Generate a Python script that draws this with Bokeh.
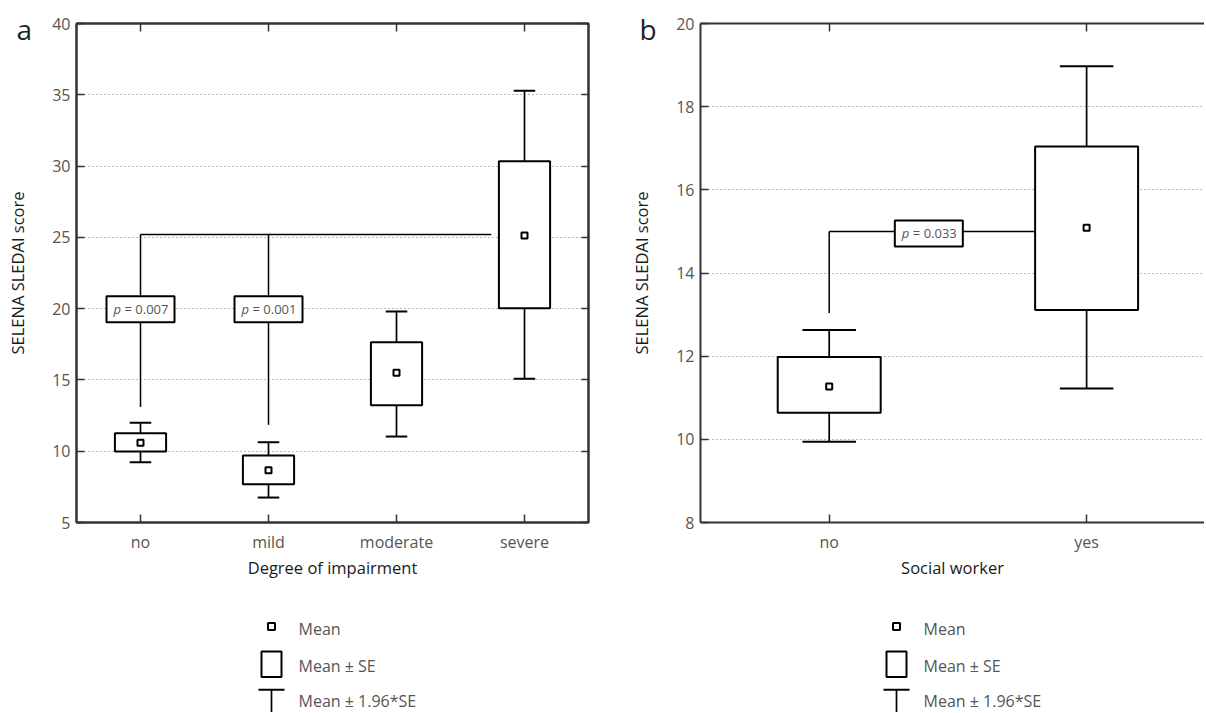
import numpy as np
from bokeh.plotting import figure
from bokeh.models import Range1d, FixedTicker, SingleIntervalTicker, LinearAxis
from bokeh.layouts import column, row
from bokeh.embed import file_html
from bokeh.resources import INLINE
from bokeh.core.properties import value

# ---------------- data ----------------
cats_a = ["no", "mild", "moderate", "severe"]
mean_a = [10.60, 8.67, 15.50, 25.13]
se_low_a = [9.98, 7.69, 13.23, 20.03]
se_high_a = [11.26, 9.70, 17.64, 30.34]
ci_low_a = [9.23, 6.75, 11.03, 15.08]
ci_high_a = [11.99, 10.63, 19.80, 35.29]

cats_b = ["no", "yes"]
mean_b = [11.27, 15.09]
se_low_b = [10.64, 13.11]
se_high_b = [11.98, 17.04]
ci_low_b = [9.94, 11.22]
ci_high_b = [12.63, 18.97]

# comparison brackets
cmp_a_from = ["no", "mild"]
cmp_a_to = "severe"
cmp_a_level = 25.2
cmp_a_drop_end = [13.1, 11.85]
cmp_a_p = ["0.007", "0.001"]
cmp_a_label_y = [19.96, 19.96]

cmp_b_from = ["no"]
cmp_b_to = "yes"
cmp_b_level = 15.0
cmp_b_drop_end = [13.04]
cmp_b_p = ["0.033"]
cmp_b_label_y = [14.95]

legend_labels = ["Mean", "Mean \u00b1 SE", "Mean \u00b1 1.96*SE"]
panel_letters = ["a", "b"]

FONT = "Open Sans"
AX = "#333333"


def style_axis(ax):
    ax.axis_line_color = AX
    ax.axis_line_width = 2
    ax.major_tick_line_color = AX
    ax.major_tick_line_width = 1.5
    ax.major_tick_in = 8
    ax.major_tick_out = 0
    ax.minor_tick_line_color = None
    ax.major_label_text_font = FONT
    ax.major_label_text_font_size = "16px"
    ax.major_label_text_color = "#555555"
    ax.axis_label_text_font = FONT
    ax.axis_label_text_font_style = "normal"
    ax.axis_label_text_color = "#1a1a1a"
    ax.axis_label_text_font_size = "16.5px"


def make_panel(cats, mean, se_lo, se_hi, ci_lo, ci_hi, y0, y1, yint, xlabel,
               x_end, frame_w, frame_h, mb_left, mb_right, mb_top,
               mb_bottom, cap_half, right_border, cmp_from, cmp_to, level,
               drop_end, pvals, label_y, label_x, bracket_gap):
    p = figure(x_range=Range1d(-0.5, x_end), y_range=Range1d(y0, y1),
               frame_width=frame_w, frame_height=frame_h,
               min_border_left=mb_left, min_border_right=mb_right,
               min_border_top=mb_top, min_border_bottom=mb_bottom,
               toolbar_location=None, output_backend="svg",
               background_fill_color="white", border_fill_color=None)
    idx = list(range(len(cats)))
    xt = FixedTicker(ticks=idx)
    yt = SingleIntervalTicker(interval=yint, num_minor_ticks=0)

    xa = p.xaxis[0]
    xa.ticker = xt
    xa.major_label_overrides = {i: c for i, c in enumerate(cats)}
    style_axis(xa)
    xa.major_label_standoff = 8
    xa.axis_label = xlabel
    xa.axis_label_standoff = 0

    ya = p.yaxis[0]
    ya.ticker = yt
    style_axis(ya)
    ya.major_label_standoff = 6
    ya.axis_label = "SELENA SLEDAI score"
    ya.axis_label_standoff = 20

    top = LinearAxis(ticker=FixedTicker(ticks=idx),
                     major_label_overrides={i: "" for i in idx})
    style_axis(top)
    p.add_layout(top, "above")

    if right_border:
        ticks_r = list(np.arange(y0, y1 + 0.001, yint))
        right = LinearAxis(ticker=FixedTicker(ticks=ticks_r),
                           major_label_overrides={t: "" for t in ticks_r})
        style_axis(right)
        right.major_tick_in = 7
        p.add_layout(right, "right")
        p.outline_line_color = AX
        p.outline_line_width = 2
    else:
        p.outline_line_color = None

    p.xgrid.visible = False
    p.ygrid.ticker = yt
    p.ygrid.grid_line_color = "#777777"
    p.ygrid.grid_line_dash = "1 3"
    p.ygrid.grid_line_width = 1

    x = np.array(idx, dtype=float)
    # whisker stems
    p.segment(x0=x, x1=x, y0=se_hi, y1=ci_hi, line_color="black", line_width=1.7)
    p.segment(x0=x, x1=x, y0=se_lo, y1=ci_lo, line_color="black", line_width=1.7)
    # caps
    p.segment(x0=x - cap_half, x1=x + cap_half, y0=ci_hi, y1=ci_hi,
              line_color="black", line_width=2)
    p.segment(x0=x - cap_half, x1=x + cap_half, y0=ci_lo, y1=ci_lo,
              line_color="black", line_width=2)
    # boxes
    p.vbar(x=x, top=se_hi, bottom=se_lo, width=0.4, fill_color="white",
           line_color="black", line_width=2)
    # means
    p.scatter(x=x, y=mean, marker="square", size=6, fill_color="white",
              line_color="black", line_width=2)

    # comparison bracket
    fi = np.array([cats.index(c) for c in cmp_from], dtype=float)
    ti = cats.index(cmp_to)
    p.segment(x0=[fi.min()], x1=[ti - 0.2 - bracket_gap], y0=[level], y1=[level],
              line_color="black", line_width=1.5)
    p.segment(x0=fi, x1=fi, y0=[level] * len(fi), y1=drop_end,
              line_color="black", line_width=1.5)
    lx = fi if label_x is None else np.array(label_x)
    p.rect(x=lx, y=label_y, width=68, height=26, width_units="screen",
           height_units="screen", fill_color="white", line_color="black",
           line_width=2)
    p.text(x=lx, y=label_y, text=["p"] * len(lx), x_offset=-27,
           text_align="left", text_baseline="middle",
           text_font=value(FONT), text_font_size=value("13px"),
           text_font_style="italic", text_color="#555555")
    p.text(x=lx, y=label_y, text=["= " + v for v in pvals], x_offset=-16,
           text_align="left", text_baseline="middle",
           text_font=value(FONT), text_font_size=value("13px"),
           text_color="#555555")
    return p


def make_letter(width, height, lx, letter):
    k = figure(x_range=Range1d(0, width), y_range=Range1d(height, 0),
               width=width, height=height, min_border=0, title=None,
               toolbar_location=None, output_backend="svg",
               x_axis_location=None, y_axis_location=None,
               outline_line_color=None)
    k.grid.visible = False
    k.text(x=[lx], y=[28.5], text=[letter], text_align="left",
           text_baseline="middle", text_font=value(FONT),
           text_font_size=value("28px"), text_color="#222222")
    return k


def make_key(width, height, mx):
    k = figure(x_range=Range1d(0, width), y_range=Range1d(height, 0),
               width=width, height=height, min_border=0,
               toolbar_location=None, output_backend="svg",
               x_axis_location=None, y_axis_location=None,
               outline_line_color=None)
    k.grid.visible = False
    k.scatter(x=[mx], y=[26], marker="square", size=7, fill_color="white",
              line_color="black", line_width=2)
    k.quad(left=[mx - 10], right=[mx + 10], top=[51], bottom=[76.5],
           fill_color="white", line_color="black", line_width=2)
    k.segment(x0=[mx - 13], x1=[mx + 13], y0=[89.3], y1=[89.3],
              line_color="black", line_width=2)
    k.segment(x0=[mx], x1=[mx], y0=[89.3], y1=[height], line_color="black",
              line_width=1.7)
    k.text(x=[mx + 27] * 3, y=[28, 65, 100.5], text=legend_labels,
           text_align="left", text_baseline="middle", text_font=value(FONT),
           text_font_size=value("16px"), text_color="#555555")
    return k


pa = make_panel(cats_a, mean_a, se_low_a, se_high_a, ci_low_a, ci_high_a,
                5, 40, 5, "Degree of impairment", 3.5,
                512, 499, 76, 12, 22, 79, 0.084, True,
                cmp_a_from, cmp_a_to, cmp_a_level, cmp_a_drop_end, cmp_a_p,
                cmp_a_label_y, None, 0.06)

pb = make_panel(cats_b, mean_b, se_low_b, se_high_b, ci_low_b, ci_high_b,
                8, 20, 2, "Social worker", 1.458,
                504, 499, 100, 0, 23, 78, 0.104, False,
                cmp_b_from, cmp_b_to, cmp_b_level, cmp_b_drop_end, cmp_b_p,
                cmp_b_label_y, [0.387], 0.0)

LH = 60
ka = make_letter(600, LH, 16, panel_letters[0])
kb = make_letter(604, LH, 39, panel_letters[1])

la = make_key(600, 112, 271)
lb = make_key(604, 112, 296)

letters = row(ka, kb)
main = row(pa, pb, margin=(-LH, 0, 0, 0))
layout = column(letters, main, row(la, lb))
open("out.html", "w").write(file_html(layout, INLINE))
